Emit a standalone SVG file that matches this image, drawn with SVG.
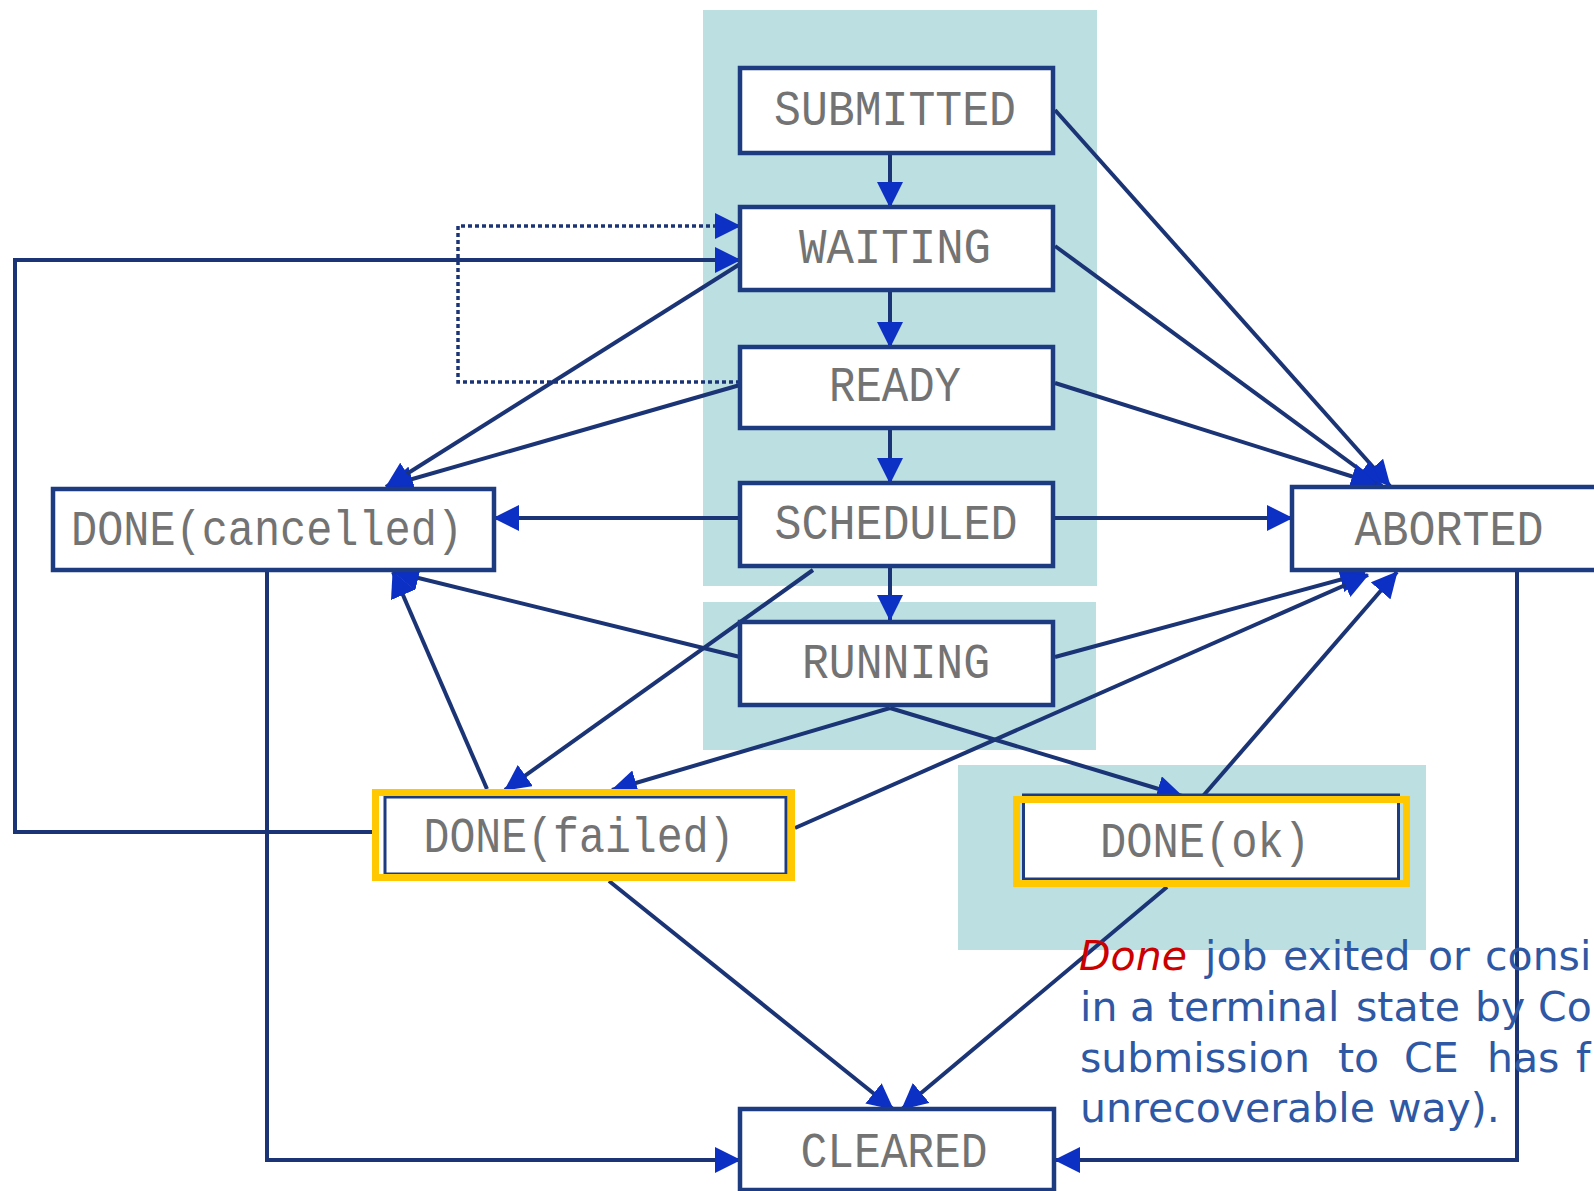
<svg xmlns="http://www.w3.org/2000/svg" width="1594" height="1191" viewBox="0 0 1594 1191">
<defs>
<marker id="ah" viewBox="0 0 26 26" refX="25" refY="13" markerWidth="26" markerHeight="26" markerUnits="userSpaceOnUse" orient="auto">
<path d="M0,0 L26,13 L0,26 z" fill="#0c2fc4"/>
</marker>
<style>
.panel{fill:#bcdfe2}
.box{fill:#ffffff;stroke:#1d3b80;stroke-width:4.5}
.ibox{fill:#ffffff;stroke:#1d3b80;stroke-width:3}
.ybox{fill:none;stroke:#ffc800;stroke-width:7}
.lbl{font-family:"Liberation Mono","DejaVu Sans Mono",monospace;font-size:50px;fill:#737373;text-anchor:middle}
.c{fill:none;stroke:#1b3475;stroke-width:4;marker-end:url(#ah)}
.dot{fill:none;stroke:#1b3475;stroke-width:3.5;stroke-dasharray:4 3;marker-end:url(#ah)}
.note{font-family:"DejaVu Sans","Noto Sans",sans-serif;font-size:41px;fill:#2f58a4}
.red{fill:#cc0000;font-style:italic}
</style>
</defs>
<rect width="1594" height="1191" fill="#ffffff"/>
<g id="panels">
<rect class="panel" x="703" y="10" width="394" height="576"/>
<rect class="panel" x="703" y="602" width="393" height="148"/>
<rect class="panel" x="958" y="765" width="468" height="185"/>
</g>
<g id="connectors">
<path class="c" d="M890,153 L890,207"/>
<path class="c" d="M890,290 L890,347"/>
<path class="c" d="M890,428 L890,483"/>
<path class="c" d="M890,566 L890,620"/>
<path class="c" d="M1055,110 L1390,486"/>
<path class="c" d="M1055,246 L1382,486"/>
<path class="c" d="M1055,383 L1376,484"/>
<path class="c" d="M1055,518 L1292,518"/>
<path class="c" d="M1055,657 L1365,573"/>
<path class="c" d="M795,828 L1368,575"/>
<path class="c" d="M1203,796 L1397,572"/>
<path class="c" d="M740,518 L494,518"/>
<path class="c" d="M740,385 L388,486"/>
<path class="c" d="M740,264 L386,487"/>
<path class="c" d="M740,657 L394,572"/>
<path class="c" d="M487,789 L393,572"/>
<path class="c" d="M813,570 L505,790"/>
<path class="c" d="M890,708 L612,790"/>
<path class="c" d="M890,708 L1182,796"/>
<path class="c" d="M609,881 L893,1109"/>
<path class="c" d="M1167,887 L902,1109"/>
<path class="c" d="M267,571 L267,1160 L740,1160"/>
<path class="c" d="M1517,571 L1517,1160 L1055,1160"/>
<path class="c" d="M373,832 L15,832 L15,260 L740,260"/>
<path class="dot" d="M740,382 L458,382 L458,226 L740,226"/>
</g>
<g id="SUBMITTED"><rect class="box" x="740" y="68" width="313" height="85"/><text class="lbl" x="895" y="125" textLength="242" lengthAdjust="spacingAndGlyphs">SUBMITTED</text></g>
<g id="WAITING"><rect class="box" x="740" y="207" width="313" height="83"/><text class="lbl" x="895" y="263" textLength="192" lengthAdjust="spacingAndGlyphs">WAITING</text></g>
<g id="READY"><rect class="box" x="740" y="347" width="313" height="81"/><text class="lbl" x="895" y="401" textLength="132" lengthAdjust="spacingAndGlyphs">READY</text></g>
<g id="SCHEDULED"><rect class="box" x="740" y="483" width="313" height="83"/><text class="lbl" x="896" y="539" textLength="243" lengthAdjust="spacingAndGlyphs">SCHEDULED</text></g>
<g id="RUNNING"><rect class="box" x="740" y="622" width="313" height="83"/><text class="lbl" x="896" y="678" textLength="188" lengthAdjust="spacingAndGlyphs">RUNNING</text></g>
<g id="CLEARED"><rect class="box" x="740" y="1109" width="314" height="81"/><text class="lbl" x="894" y="1167" textLength="187" lengthAdjust="spacingAndGlyphs">CLEARED</text></g>
<g id="DONE_cancelled"><rect class="box" x="53" y="489" width="441" height="81"/><text class="lbl" x="267" y="545" textLength="392" lengthAdjust="spacingAndGlyphs">DONE(cancelled)</text></g>
<g id="ABORTED"><rect class="box" x="1292" y="487" width="330" height="83"/><text class="lbl" x="1449" y="545" textLength="189" lengthAdjust="spacingAndGlyphs">ABORTED</text></g>
<g id="DONE_failed"><rect class="ibox" x="385" y="797" width="401" height="77"/><rect class="ybox" x="375.5" y="792.5" width="416" height="85"/><text class="lbl" x="579" y="852" textLength="311" lengthAdjust="spacingAndGlyphs">DONE(failed)</text></g>
<g id="DONE_ok"><rect class="ibox" x="1023.5" y="795" width="375" height="84"/><rect class="ybox" x="1016.5" y="799.5" width="390" height="84"/><text class="lbl" x="1205" y="857" textLength="210" lengthAdjust="spacingAndGlyphs">DONE(ok)</text></g>
<g id="note">
<text class="note" y="970"><tspan class="red" x="1079">Done</tspan><tspan x="1205">job</tspan><tspan x="1283">exited</tspan><tspan x="1428">or</tspan><tspan x="1485">consi</tspan></text>
<text class="note" y="1021"><tspan x="1080">in</tspan><tspan x="1130">a</tspan><tspan x="1168">terminal</tspan><tspan x="1356">state</tspan><tspan x="1475">by</tspan><tspan x="1538">Co</tspan></text>
<text class="note" y="1072"><tspan x="1080">submission</tspan><tspan x="1338">to</tspan><tspan x="1404">CE</tspan><tspan x="1487">has</tspan><tspan x="1576">f</tspan></text>
<text class="note" x="1080" y="1122">unrecoverable way).</text>
</g>
</svg>
